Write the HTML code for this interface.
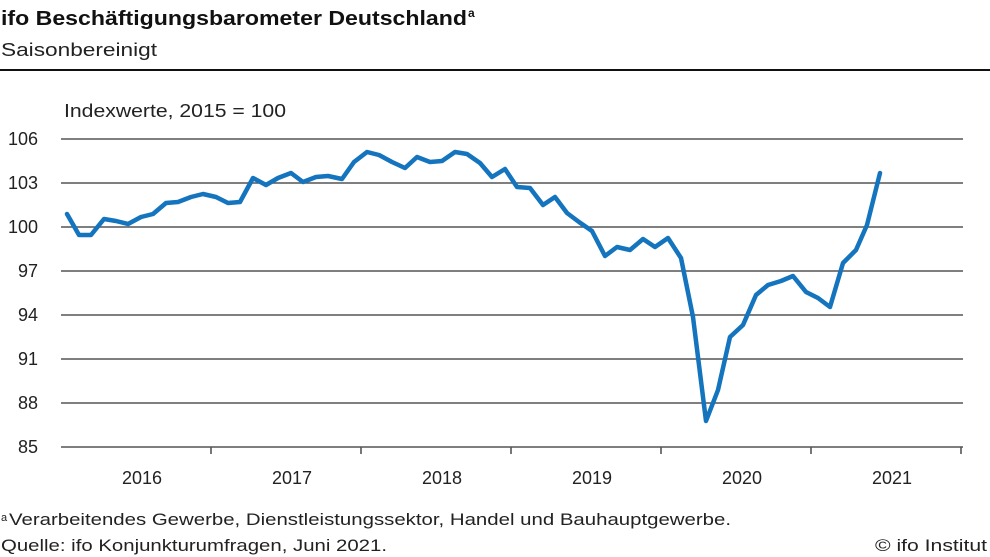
<!DOCTYPE html>
<html><head><meta charset="utf-8"><style>html,body{margin:0;padding:0;background:#fff}svg{display:block}</style></head>
<body>
<svg width="990" height="557" viewBox="0 0 990 557" xmlns="http://www.w3.org/2000/svg" font-family="Liberation Sans, sans-serif">
<text x="1" y="25" font-size="20" font-weight="bold" fill="#111" textLength="466" lengthAdjust="spacingAndGlyphs">ifo Beschäftigungsbarometer Deutschland</text>
<text x="468" y="17" font-size="12" font-weight="bold" fill="#111">a</text>
<text x="1" y="56" font-size="18" fill="#222" textLength="156" lengthAdjust="spacingAndGlyphs">Saisonbereinigt</text>
<rect x="0" y="69" width="990" height="2" fill="#111"/>
<text x="64" y="117" font-size="18" fill="#222" textLength="222" lengthAdjust="spacingAndGlyphs">Indexwerte, 2015 = 100</text>
<g stroke="#555" stroke-width="1.6">
<line x1="61" y1="139" x2="963" y2="139"/><line x1="61" y1="183" x2="963" y2="183"/><line x1="61" y1="227" x2="963" y2="227"/><line x1="61" y1="271" x2="963" y2="271"/><line x1="61" y1="315" x2="963" y2="315"/><line x1="61" y1="359" x2="963" y2="359"/><line x1="61" y1="403" x2="963" y2="403"/><line x1="61" y1="447" x2="963" y2="447"/>
<line x1="211" y1="447" x2="211" y2="454"/><line x1="361" y1="447" x2="361" y2="454"/><line x1="511" y1="447" x2="511" y2="454"/><line x1="661" y1="447" x2="661" y2="454"/><line x1="811" y1="447" x2="811" y2="454"/><line x1="961" y1="447" x2="961" y2="454"/>
</g>
<g font-size="18" fill="#222" text-anchor="end">
<text x="38" y="145">106</text><text x="38" y="189">103</text><text x="38" y="233">100</text><text x="38" y="277">97</text><text x="38" y="321">94</text><text x="38" y="365">91</text><text x="38" y="409">88</text><text x="38" y="453">85</text>
</g>
<g font-size="18" fill="#222" text-anchor="middle">
<text x="142" y="484">2016</text><text x="292" y="484">2017</text><text x="442" y="484">2018</text><text x="592" y="484">2019</text><text x="742" y="484">2020</text><text x="892" y="484">2021</text>
</g>
<polyline fill="none" stroke="#1474bd" stroke-width="4.5" stroke-linejoin="round" stroke-linecap="round" points="67,214 79,235 91,235 104,219 116,221 128,224 141,217 153,214 166,203 178,202 191,197 203,194 216,197 228,203 240,202 253,178 266,185 278,178 291,173 303,182 316,177 328,176 342,179 354,162 367,152 379,155 392,162 405,168 417,157 430,162 442,161 455,152 467,154 480,163 492,177 505,169 517,187 530,188 543,205 555,197 567,213 579,222 592,231 605,256 617,247 630,250 643,239 655,247 668,238 681,258 693,317 706,421 718,390 730,337 743,325 756,295 768,285 781,281 793,276 806,292 818,298 830,307 843,263 856,250 867,225 880,173"/>
<text x="1" y="521" font-size="11" fill="#222">a</text>
<text x="9" y="525" font-size="17" fill="#222" textLength="722" lengthAdjust="spacingAndGlyphs">Verarbeitendes  Gewerbe,  Dienstleistungssektor,  Handel und Bauhauptgewerbe.</text>
<text x="1" y="551" font-size="17" fill="#222" textLength="386" lengthAdjust="spacingAndGlyphs">Quelle:  ifo Konjunkturumfragen,  Juni 2021.</text>
<text x="987" y="551" font-size="17" fill="#222" text-anchor="end" textLength="112" lengthAdjust="spacingAndGlyphs">© ifo Institut</text>
</svg>
</body></html>
